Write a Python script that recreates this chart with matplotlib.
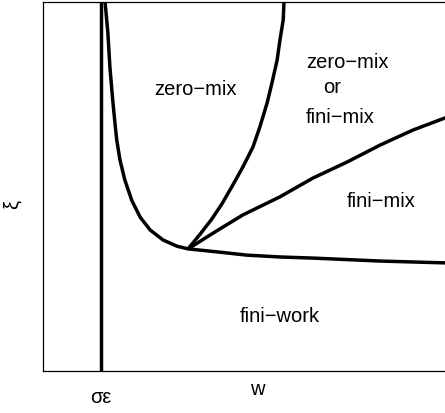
import matplotlib
matplotlib.use("Agg")
import matplotlib.pyplot as plt

# Region boundaries (axes units 0..1)
u_x = [0.153, 0.154, 0.161, 0.166, 0.173, 0.179, 0.183, 0.191, 0.203, 0.220,
       0.241, 0.266, 0.298, 0.333, 0.360, 0.439, 0.506, 0.588, 0.670, 0.836,
       0.998, 1.01]
u_y = [1.02, 1.0, 0.916, 0.824, 0.734, 0.667, 0.626, 0.572, 0.518, 0.463,
       0.417, 0.382, 0.355, 0.338, 0.331, 0.322, 0.314, 0.309, 0.306, 0.298,
       0.293, 0.293]

left_x = [0.360, 0.390, 0.419, 0.444, 0.471, 0.496, 0.521, 0.538, 0.556, 0.568,
          0.581, 0.588, 0.596, 0.598, 0.599]
left_y = [0.331, 0.371, 0.412, 0.453, 0.504, 0.553, 0.607, 0.661, 0.726, 0.780,
          0.843, 0.897, 0.951, 1.0, 1.02]

mid_x = [0.360, 0.427, 0.496, 0.588, 0.670, 0.754, 0.836, 0.918, 0.998, 1.01]
mid_y = [0.331, 0.377, 0.423, 0.472, 0.523, 0.566, 0.612, 0.653, 0.686, 0.691]

sigma_eps = 0.144

plt.rcParams['font.family'] = ['Liberation Sans', 'DejaVu Sans']

fig = plt.figure(figsize=(4.45, 4.13), dpi=100)
ax = fig.add_axes([43 / 445, 42 / 413, 403 / 445, 369 / 413])

lw = 2.5
ax.axvline(sigma_eps, color='black', lw=lw)
for xs, ys in [(u_x, u_y), (left_x, left_y), (mid_x, mid_y)]:
    ax.plot(xs, ys, color='black', lw=lw, solid_capstyle='butt',
            solid_joinstyle='round')

fs = 14.5
ax.text(0.377, 0.762, 'zero\u2212mix', ha='center', va='center', fontsize=fs)
ax.text(0.653, 0.837, 'zero\u2212mix', ha='left', va='center', fontsize=fs)
ax.text(0.717, 0.767, 'or', ha='center', va='center', fontsize=fs)
ax.text(0.653, 0.688, 'fini\u2212mix', ha='left', va='center', fontsize=fs)
ax.text(0.839, 0.458, 'fini\u2212mix', ha='center', va='center', fontsize=fs)
ax.text(0.588, 0.149, 'fini\u2212work', ha='center', va='center', fontsize=fs)

ax.set_xlim(0, 1)
ax.set_ylim(0, 1)
ax.set_xticks([sigma_eps])
ax.set_xticklabels(['\u03c3\u03b5'], fontsize=fs)
ax.tick_params(axis='x', length=0, pad=12)
ax.set_yticks([])
ax.set_xlabel('w', fontsize=fs)
ax.xaxis.set_label_coords(0.531, -0.025, transform=ax.transAxes)
ax.xaxis.label.set_verticalalignment('top')
ax.set_ylabel('\u03be', fontsize=fs)
ax.yaxis.set_label_coords(-0.052, 0.45)
ax.spines['right'].set_visible(False)
for s in ['left', 'top', 'bottom']:
    ax.spines[s].set_linewidth(0.9)

fig.savefig('out.png', dpi=100)
